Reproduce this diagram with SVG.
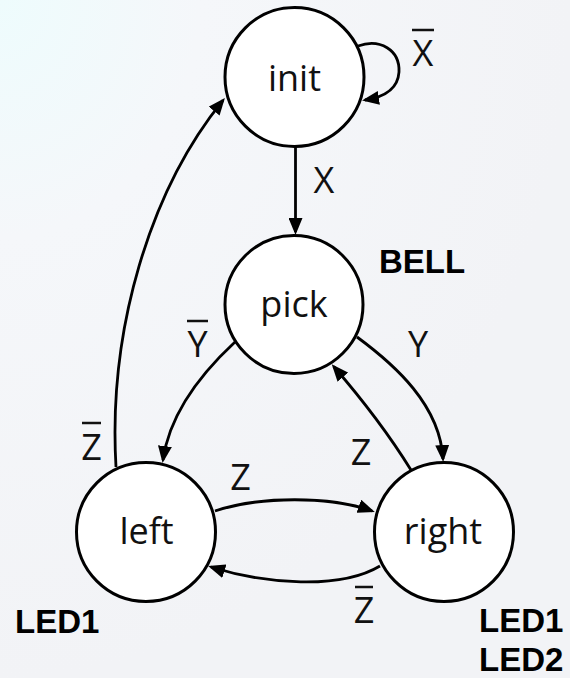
<svg xmlns="http://www.w3.org/2000/svg" width="570" height="678" viewBox="0 0 570 678">
  <defs>
    <radialGradient id="bg" cx="0" cy="0" r="1" gradientUnits="objectBoundingBox">
      <stop offset="0" stop-color="#eefcfd"/>
      <stop offset="0.35" stop-color="#f5f7fa"/>
      <stop offset="1" stop-color="#f2f3f6"/>
    </radialGradient>
    <marker id="arr" markerUnits="userSpaceOnUse" markerWidth="17" markerHeight="14" refX="14" refY="7" orient="auto">
      <path d="M0,0 L17,7 L0,14 z" fill="#000"/>
    </marker>
    <style>
      .node { fill: #fff; stroke: #000; stroke-width: 3; }
      .ntext { font-family: "Open Sans", "Liberation Sans", sans-serif; font-size: 36px; fill: #111; text-anchor: middle; }
      .lbl { font-family: "Open Sans", "Liberation Sans", sans-serif; font-size: 36px; fill: #111; text-anchor: middle; }
      .out { font-family: "Liberation Sans", Arial, sans-serif; font-size: 33px; font-weight: bold; fill: #000; }
      .edge { fill: none; stroke: #000; stroke-width: 2.8; marker-end: url(#arr); }
      .bar { stroke: #111; stroke-width: 2.5; }
    </style>
  </defs>
  <rect x="0" y="0" width="570" height="678" fill="url(#bg)"/>

  <g id="connectors">
    <path class="edge" d="M295.5,147 L295.5,232"/>
    <path class="edge" d="M358,46 C380,38 400,50 399,72 C398,88 385,97 365,100"/>
    <path class="edge" d="M116,467 C108,330 150,190 223,100.3"/>
    <path class="edge" d="M235,342 C207,368 170,410 163,460"/>
    <path class="edge" d="M357,337 C395,365 440,405 443,459"/>
    <path class="edge" d="M411,470 Q380,420 333.7,366.5"/>
    <path class="edge" d="M215,511 C260,496 330,496 372,511"/>
    <path class="edge" d="M380,566 C340,590 265,584 211,567"/>
  </g>

  <g id="labels">
    <text class="lbl" x="324" y="193">X</text>
    <g id="label-notX">
      <text class="lbl" x="423" y="66">X</text>
      <line class="bar" x1="412" y1="30" x2="434" y2="30"/>
    </g>
    <text class="lbl" x="418" y="357">Y</text>
    <g id="label-notY">
      <text class="lbl" x="197.5" y="357">Y</text>
      <line class="bar" x1="187" y1="321" x2="208" y2="321"/>
    </g>
    <g id="label-notZ-left">
      <text class="lbl" x="91.5" y="460">Z</text>
      <line class="bar" x1="82" y1="423" x2="101" y2="423"/>
    </g>
    <text class="lbl" x="361" y="465">Z</text>
    <text class="lbl" x="240.5" y="490">Z</text>
    <g id="label-notZ-bottom">
      <text class="lbl" x="364" y="623">Z</text>
      <line class="bar" x1="355" y1="587" x2="373" y2="587"/>
    </g>
  </g>

  <g id="init">
    <circle class="node" cx="294.5" cy="77" r="69.5"/>
    <text class="ntext" x="294.5" y="90.5">init</text>
  </g>
  <g id="pick">
    <circle class="node" cx="294" cy="304.5" r="69"/>
    <text class="ntext" x="294" y="317">pick</text>
    <text class="out" x="379" y="273">BELL</text>
  </g>
  <g id="left">
    <circle class="node" cx="146" cy="532" r="69.5"/>
    <text class="ntext" x="146.5" y="544">left</text>
    <text class="out" x="15" y="633">LED1</text>
  </g>
  <g id="right">
    <circle class="node" cx="444" cy="532" r="69.5"/>
    <text class="ntext" x="443" y="544">right</text>
    <text class="out" x="479" y="632">LED1</text>
    <text class="out" x="479" y="671">LED2</text>
  </g>
</svg>
